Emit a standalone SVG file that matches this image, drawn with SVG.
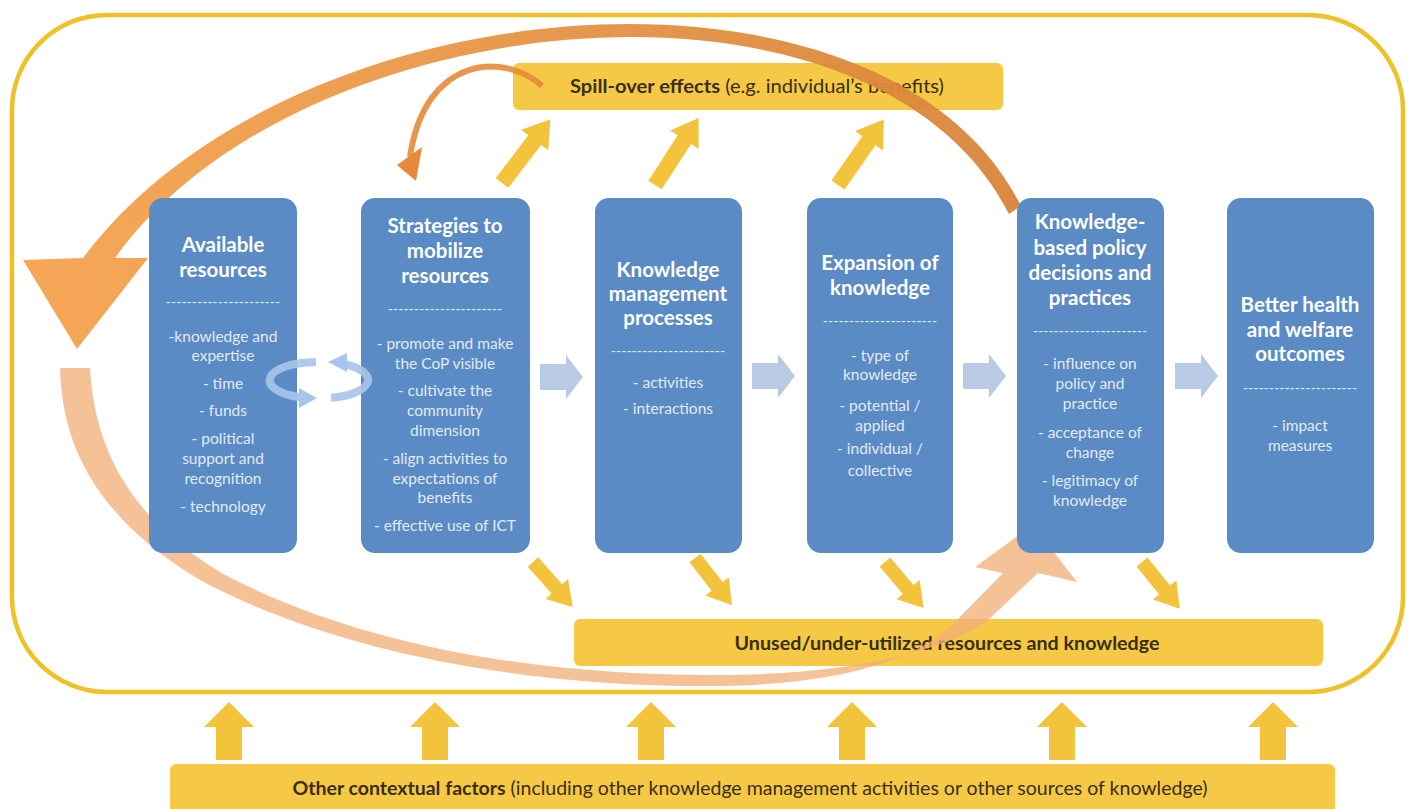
<svg xmlns="http://www.w3.org/2000/svg" xmlns:xlink="http://www.w3.org/1999/xlink" width="1410" height="809" viewBox="0 0 1410 809">
<style>
.box{fill:#5a8bc4}
.hd{font-family:Lato,"Liberation Sans",Arial,sans-serif;font-weight:bold;font-size:20.5px;fill:#ffffff;text-anchor:middle}
.bd{font-family:Lato,"Liberation Sans",Arial,sans-serif;font-size:15.5px;fill:#e2eaf5;text-anchor:middle}
.dash{font-family:Lato,"Liberation Sans",Arial,sans-serif;font-size:14px;fill:#e2eaf5;text-anchor:middle}
.ybox{fill:#f5c945}
.yt{font-family:Lato,"Liberation Sans",Arial,sans-serif;font-size:19.5px;fill:#3a2e10;text-anchor:middle}
.ya{fill:#f3c33c}
.ba{fill:#b9cae4}
</style>
<defs>
<linearGradient id="og" gradientUnits="userSpaceOnUse" x1="80" y1="0" x2="1020" y2="0">
<stop offset="0" stop-color="#f4a24e"/>
<stop offset="1" stop-color="#d8843a"/>
</linearGradient>
<path id="diag" d="M0,-8 L54,-8 L54,-17 L80,0 L54,17 L54,8 L0,8 Z"/>
<path id="down" d="M0,-7 L36,-7 L36,-15 L60,0 L36,15 L36,7 L0,7 Z"/>
<path id="up" d="M-13,760 L-13,727 L-25,727 L0,702 L25,727 L13,727 L13,760 Z"/>
<path id="right" d="M0,-13 L26,-13 L26,-22 L43,0 L26,22 L26,13 L0,13 Z"/>
</defs>
<rect width="1410" height="809" fill="#ffffff"/>
<rect x="12" y="15" width="1391" height="677" rx="95" ry="95" fill="none" stroke="#efc128" stroke-width="4.5"/>
<g id="spillover">
<rect class="ybox" x="513" y="63" width="490" height="47" rx="6"/>
<text class="yt" x="757" y="93" textLength="374" lengthAdjust="spacingAndGlyphs"><tspan font-weight="bold">Spill-over effects</tspan> (e.g. individual’s benefits)</text>
</g>
<g id="unused">
<rect class="ybox" x="574" y="619" width="749" height="47" rx="6"/>
<text class="yt" x="947" y="650" font-weight="bold" textLength="425" lengthAdjust="spacingAndGlyphs">Unused/under-utilized resources and knowledge</text>
</g>
<g id="contextual">
<rect class="ybox" x="170" y="764" width="1165" height="60" rx="6"/>
<text class="yt" x="750" y="795" textLength="915" lengthAdjust="spacingAndGlyphs"><tspan font-weight="bold">Other contextual factors</tspan> (including other knowledge management activities or other sources of knowledge)</text>
</g>
<g id="connectors">
<path d="M60,368 C62,450 100,520 200,580 C330,650 520,688 720,686 C840,684 920,660 957,620 L1003,573 L975,567 L1033,525 L1077,582 L1038,573 L988,620 C950,650 850,675 720,675 C520,676 350,640 225,575 C140,525 95,460 90,368 Z" fill="#f2b07a" fill-opacity="0.78"/>
<path d="M1021,206 C886,-66 290,-20 83,258 L23,260 L77,349 L148,258 L115,258 C300,0 874,-54 1009,214 Z" fill="url(#og)" fill-opacity="0.95"/>
<path d="M542,86 C505,52 425,55 410,157" fill="none" stroke="#e8893a" stroke-width="6" stroke-opacity="0.9"/>
<polygon points="397,165 422,147 416,181" fill="#e8893a"/>
<use xlink:href="#diag" class="ya" transform="translate(502,183) rotate(-52.7)"/>
<use xlink:href="#diag" class="ya" transform="translate(655,185) rotate(-57)"/>
<use xlink:href="#diag" class="ya" transform="translate(838,185) rotate(-55)"/>
<use xlink:href="#down" class="ya" transform="translate(533,562) rotate(48.5)"/>
<use xlink:href="#down" class="ya" transform="translate(695,558) rotate(52)"/>
<use xlink:href="#down" class="ya" transform="translate(885,562) rotate(50)"/>
<use xlink:href="#down" class="ya" transform="translate(1142,562) rotate(51)"/>
<use xlink:href="#up" class="ya" transform="translate(229,0)"/>
<use xlink:href="#up" class="ya" transform="translate(435,0)"/>
<use xlink:href="#up" class="ya" transform="translate(651,0)"/>
<use xlink:href="#up" class="ya" transform="translate(852,0)"/>
<use xlink:href="#up" class="ya" transform="translate(1062,0)"/>
<use xlink:href="#up" class="ya" transform="translate(1273,0)"/>
</g>
<g id="n1">
<rect class="box" x="149" y="198" width="148" height="355" rx="14"/>
<text class="hd" x="223" y="252">Available</text>
<text class="hd" x="223" y="277">resources</text>
<text class="dash" x="223" y="307">----------------------</text>
<text class="bd" x="223" y="342">-knowledge and</text>
<text class="bd" x="223" y="361">expertise</text>
<text class="bd" x="223" y="389">- time</text>
<text class="bd" x="223" y="416">- funds</text>
<text class="bd" x="223" y="444">- political</text>
<text class="bd" x="223" y="464">support and</text>
<text class="bd" x="223" y="484">recognition</text>
<text class="bd" x="223" y="512">- technology</text>
</g>
<g id="n2">
<rect class="box" x="361" y="198" width="169" height="355" rx="14"/>
<text class="hd" x="445" y="233">Strategies to</text>
<text class="hd" x="445" y="258">mobilize</text>
<text class="hd" x="445" y="283">resources</text>
<text class="dash" x="445" y="314">----------------------</text>
<text class="bd" x="445" y="349">- promote and make</text>
<text class="bd" x="445" y="369">the CoP visible</text>
<text class="bd" x="445" y="396">- cultivate the</text>
<text class="bd" x="445" y="416">community</text>
<text class="bd" x="445" y="436">dimension</text>
<text class="bd" x="445" y="464">- align activities to</text>
<text class="bd" x="445" y="484">expectations of</text>
<text class="bd" x="445" y="503">benefits</text>
<text class="bd" x="445" y="531">- effective use of ICT</text>
</g>
<g id="n3">
<rect class="box" x="595" y="198" width="147" height="355" rx="14"/>
<text class="hd" x="668" y="277">Knowledge</text>
<text class="hd" x="668" y="301">management</text>
<text class="hd" x="668" y="325">processes</text>
<text class="dash" x="668" y="356">----------------------</text>
<text class="bd" x="668" y="388">- activities</text>
<text class="bd" x="668" y="414">- interactions</text>
</g>
<g id="n4">
<rect class="box" x="807" y="198" width="146" height="355" rx="14"/>
<text class="hd" x="880" y="270">Expansion of</text>
<text class="hd" x="880" y="295">knowledge</text>
<text class="dash" x="880" y="326">----------------------</text>
<text class="bd" x="880" y="361">- type of</text>
<text class="bd" x="880" y="380">knowledge</text>
<text class="bd" x="880" y="411">- potential /</text>
<text class="bd" x="880" y="431">applied</text>
<text class="bd" x="880" y="454">- individual /</text>
<text class="bd" x="880" y="476">collective</text>
</g>
<g id="n5">
<rect class="box" x="1017" y="198" width="147" height="355" rx="14"/>
<text class="hd" x="1090" y="229">Knowledge-</text>
<text class="hd" x="1090" y="255">based policy</text>
<text class="hd" x="1090" y="280">decisions and</text>
<text class="hd" x="1090" y="305">practices</text>
<text class="dash" x="1090" y="336">----------------------</text>
<text class="bd" x="1090" y="369">- influence on</text>
<text class="bd" x="1090" y="389">policy and</text>
<text class="bd" x="1090" y="409">practice</text>
<text class="bd" x="1090" y="438">- acceptance of</text>
<text class="bd" x="1090" y="458">change</text>
<text class="bd" x="1090" y="486">- legitimacy of</text>
<text class="bd" x="1090" y="506">knowledge</text>
</g>
<g id="n6">
<rect class="box" x="1227" y="198" width="147" height="355" rx="14"/>
<text class="hd" x="1300" y="312">Better health</text>
<text class="hd" x="1300" y="337">and welfare</text>
<text class="hd" x="1300" y="361">outcomes</text>
<text class="dash" x="1300" y="393">----------------------</text>
<text class="bd" x="1300" y="431">- impact</text>
<text class="bd" x="1300" y="451">measures</text>
</g>
<g id="flow-arrows">
<use xlink:href="#right" class="ba" transform="translate(540,377)"/>
<use xlink:href="#right" class="ba" transform="translate(752,376)"/>
<use xlink:href="#right" class="ba" transform="translate(963,376)"/>
<use xlink:href="#right" class="ba" transform="translate(1175,376)"/>
</g>
<g id="cycle" fill="none" stroke="#a8c4ea" stroke-opacity="0.9">
<path d="M316,362.3 A45 18 0 0 0 300,397.3" stroke-width="8"/>
<polygon points="299,388 299,408 317,398" fill="#a8c4ea" stroke="none"/>
<path d="M331,397.7 A45 18 0 0 0 346,364.5" stroke-width="8"/>
<polygon points="347,353 347,372 328,362" fill="#a8c4ea" stroke="none"/>
</g>
</svg>
